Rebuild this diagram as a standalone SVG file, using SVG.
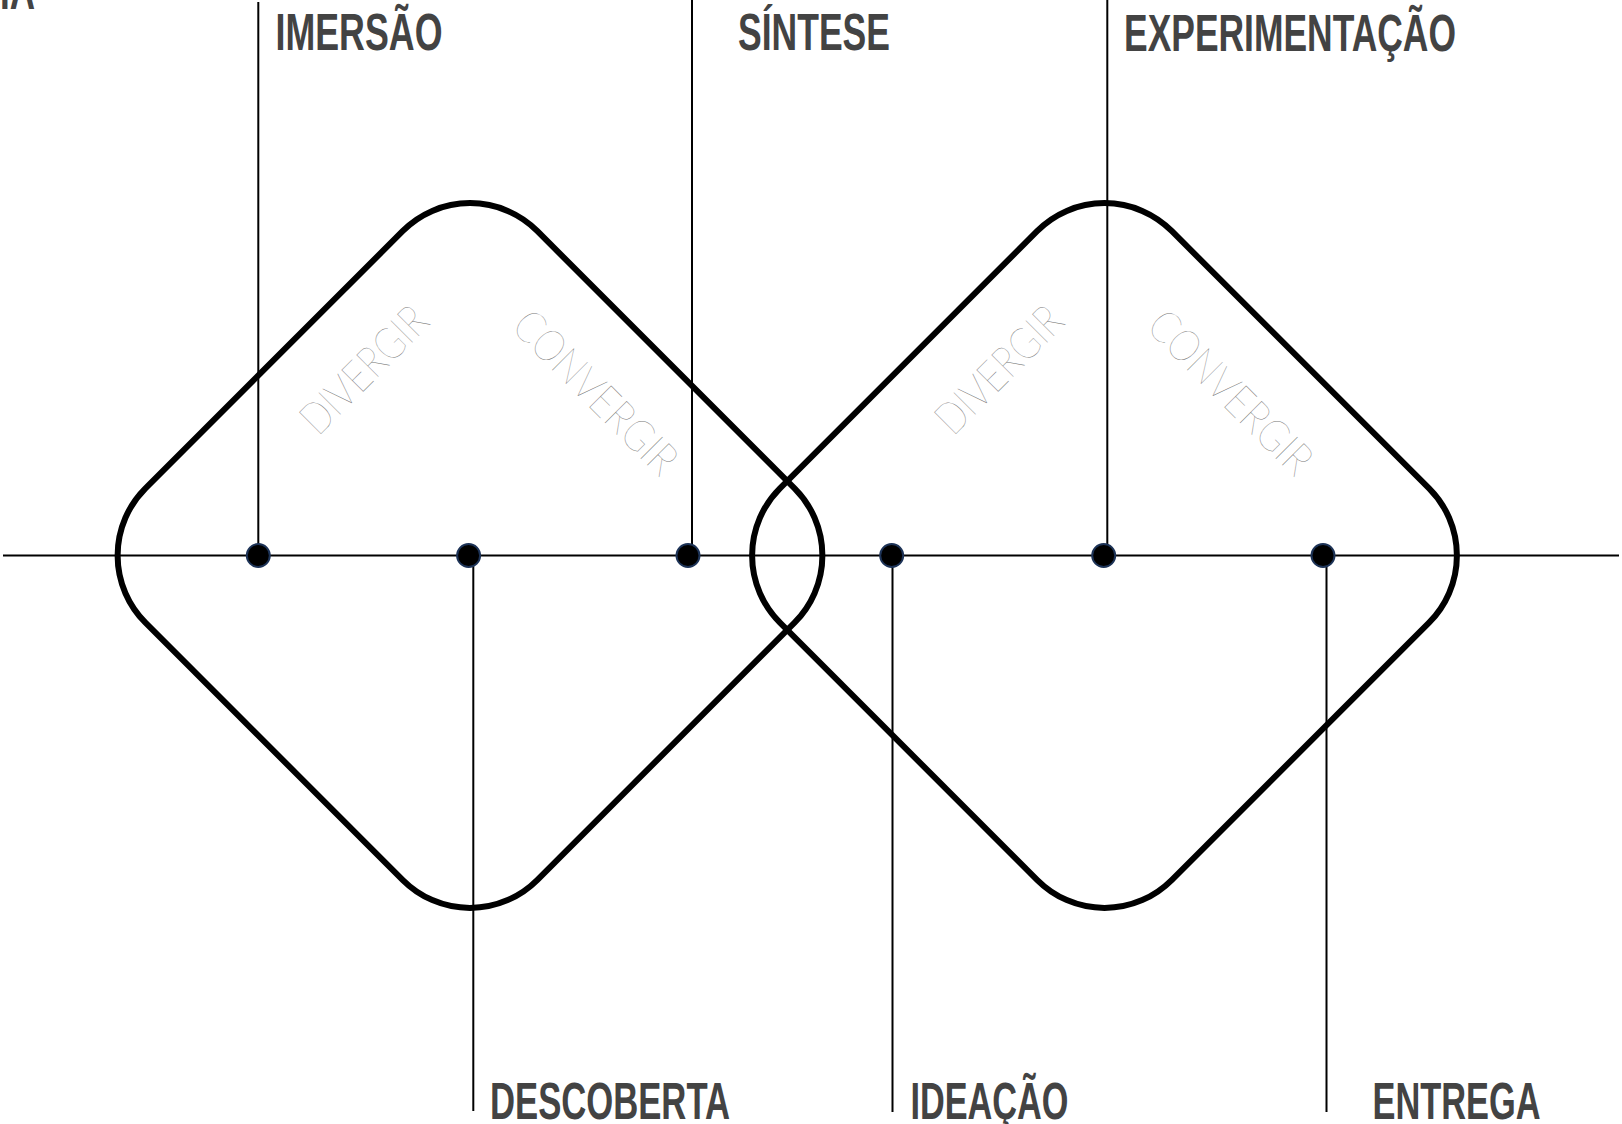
<svg xmlns="http://www.w3.org/2000/svg" width="1622" height="1124" viewBox="0 0 1622 1124">
<style>
.bg{fill:#ffffff}
.diamond{fill:none;stroke:#000;stroke-width:6}
.line{stroke:#000;stroke-width:2;fill:none}
.dot{fill:#000;stroke:#1d3357;stroke-width:2}
.label{font-family:"Liberation Sans",Arial,sans-serif;font-weight:700;font-size:51px;fill:#434343}
.thin{font-family:Lato,Roboto,"Open Sans",sans-serif;font-weight:100;font-size:44px;fill:#777777}
</style>
<rect class="bg" x="0" y="0" width="1622" height="1124"/>
<g id="diamond-left">
<rect class="diamond" x="-277" y="-277" width="554" height="554" rx="95" transform="translate(470 555.5) rotate(45)"/>
<text class="thin" x="318" y="437" textLength="160" lengthAdjust="spacingAndGlyphs" transform="rotate(-45 318 437)">DIVERGIR</text>
<text class="thin" x="510" y="328" textLength="212" lengthAdjust="spacingAndGlyphs" transform="rotate(45 510 328)">CONVERGIR</text>
</g>
<g id="diamond-right">
<rect class="diamond" x="-277" y="-277" width="554" height="554" rx="95" transform="translate(1104.5 555.5) rotate(45)"/>
<text class="thin" x="953" y="437" textLength="160" lengthAdjust="spacingAndGlyphs" transform="rotate(-45 953 437)">DIVERGIR</text>
<text class="thin" x="1145" y="328" textLength="212" lengthAdjust="spacingAndGlyphs" transform="rotate(45 1145 328)">CONVERGIR</text>
</g>
<g id="connectors">
<line class="line" x1="3" y1="555.5" x2="1619" y2="555.5"/>
<line class="line" x1="258.3" y1="2" x2="258.3" y2="555.5"/>
<line class="line" x1="692" y1="0" x2="692" y2="555.5"/>
<line class="line" x1="1107.3" y1="0" x2="1107.3" y2="555.5"/>
<line class="line" x1="473.3" y1="555.5" x2="473.3" y2="1111"/>
<line class="line" x1="892.5" y1="555.5" x2="892.5" y2="1112"/>
<line class="line" x1="1326.5" y1="555.5" x2="1326.5" y2="1112"/>
</g>
<g id="title-fragment">
<text class="label" x="0" y="8.5" textLength="35" lengthAdjust="spacingAndGlyphs">IA</text>
</g>
<g id="node-imersao">
<circle class="dot" cx="258.3" cy="555.5" r="11.5"/>
<text class="label" x="275.5" y="50" textLength="167" lengthAdjust="spacingAndGlyphs">IMERSÃO</text>
</g>
<g id="node-descoberta">
<circle class="dot" cx="468.6" cy="555.5" r="11.5"/>
<text class="label" x="490" y="1119" textLength="240" lengthAdjust="spacingAndGlyphs">DESCOBERTA</text>
</g>
<g id="node-sintese">
<circle class="dot" cx="688" cy="555.5" r="11.5"/>
<text class="label" x="738" y="50" textLength="152" lengthAdjust="spacingAndGlyphs">SÍNTESE</text>
</g>
<g id="node-ideacao">
<circle class="dot" cx="891.7" cy="555.5" r="11.5"/>
<text class="label" x="910.5" y="1119" textLength="158" lengthAdjust="spacingAndGlyphs">IDEAÇÃO</text>
</g>
<g id="node-experimentacao">
<circle class="dot" cx="1103.7" cy="555.5" r="11.5"/>
<text class="label" x="1124" y="50.5" textLength="332" lengthAdjust="spacingAndGlyphs">EXPERIMENTAÇÃO</text>
</g>
<g id="node-entrega">
<circle class="dot" cx="1323" cy="555.5" r="11.5"/>
<text class="label" x="1372.5" y="1119" textLength="168" lengthAdjust="spacingAndGlyphs">ENTREGA</text>
</g>
</svg>
